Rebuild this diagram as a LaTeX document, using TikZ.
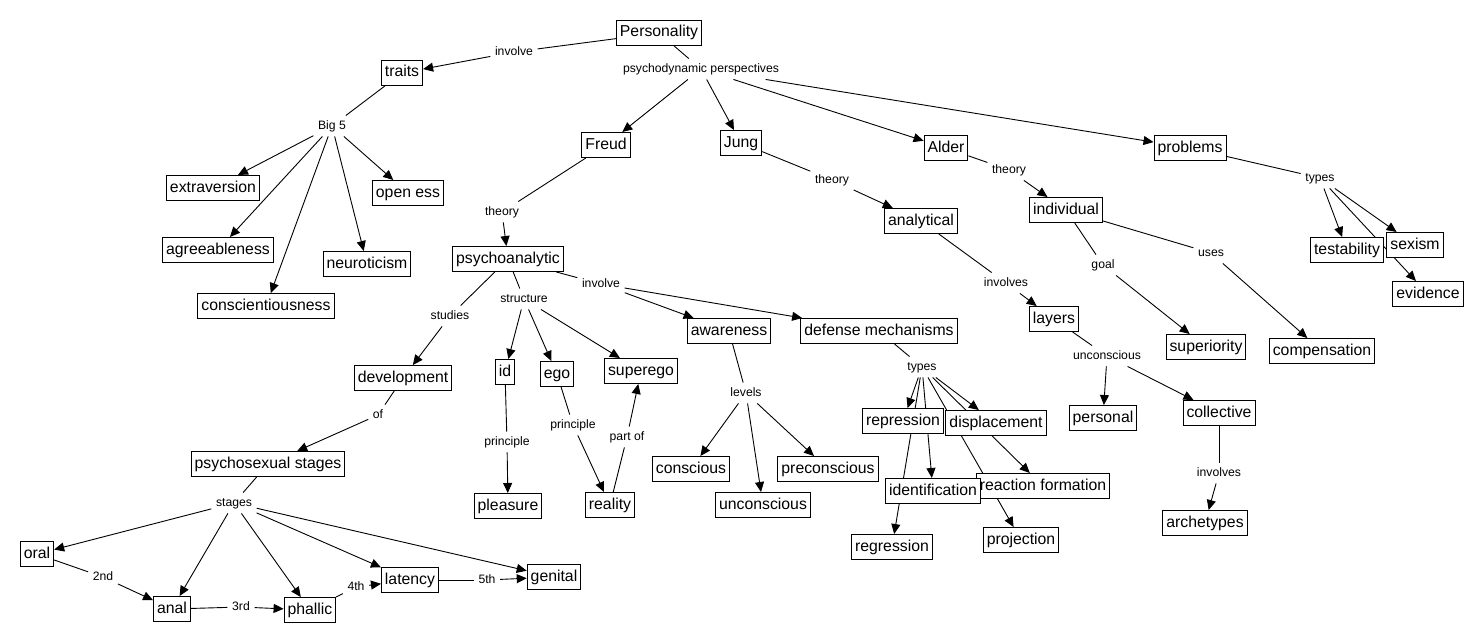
\documentclass[tikz,border=0pt]{standalone}
\usepackage{fontspec}
\setmainfont{Liberation Sans}
\usetikzlibrary{arrows.meta}
\pgfdeclarelayer{back}
\pgfdeclarelayer{bg}
\pgfsetlayers{back,bg,main}
\begin{document}
\begin{tikzpicture}[x=1pt,y=-1pt,
  concept/.style={draw=black,line width=1pt,fill=white,font=\fontsize{15.8}{18}\selectfont,
    text height=11.5pt,text depth=3.5pt,inner ysep=5pt,inner xsep=3.5pt},
  lnk/.style={font=\fontsize{12.2}{14}\selectfont,text height=9pt,text depth=2.5pt,inner sep=4.5pt},
  ln/.style={line width=0.9pt},
  arr/.style={line width=0.9pt,-{Triangle[length=10pt,width=9pt]}}]
\begin{pgfonlayer}{back}
\fill[white] (0,0) rectangle (1480,642);
\end{pgfonlayer}
\useasboundingbox (0,0) rectangle (1480,642);
% concepts
\node[concept] (P) at (659,33) {Personality};
\node[concept] (traits) at (402,73) {traits};
\node[concept] (extra) at (213,188) {extraversion};
\node[concept] (open) at (408,193) {open ess};
\node[concept] (agree) at (218,250) {agreeableness};
\node[concept] (neuro) at (367,264) {neuroticism};
\node[concept] (consc) at (266,306) {conscientiousness};
\node[concept] (freud) at (606,145) {Freud};
\node[concept] (jung) at (741,143) {Jung};
\node[concept] (alder) at (946,148) {Alder};
\node[concept] (problems) at (1190,148) {problems};
\node[concept] (analytical) at (921,221) {analytical};
\node[concept] (individual) at (1066,210) {individual};
\node[concept] (testability) at (1347,250) {testability};
\node[concept] (sexism) at (1415,245) {sexism};
\node[concept] (evidence) at (1428,294) {evidence};
\node[concept] (psa) at (508,259) {psychoanalytic};
\node[concept] (awareness) at (729,331) {awareness};
\node[concept] (defense) at (879,331) {defense mechanisms};
\node[concept] (superiority) at (1206,347) {superiority};
\node[concept] (compensation) at (1322,351) {compensation};
\node[concept] (layers) at (1054,319) {layers};
\node[concept] (personal) at (1103,418) {personal};
\node[concept] (collective) at (1219,413) {collective};
\node[concept] (archetypes) at (1205,523) {archetypes};
\node[concept] (id) at (505,372) {id};
\node[concept] (ego) at (557,374) {ego};
\node[concept] (superego) at (641,371) {superego};
\node[concept] (development) at (403,378) {development};
\node[concept] (pss) at (268,464) {psychosexual stages};
\node[concept] (oral) at (37,554) {oral};
\node[concept] (anal) at (172,609) {anal};
\node[concept] (phallic) at (310,610) {phallic};
\node[concept] (latency) at (410,580) {latency};
\node[concept] (genital) at (554,577) {genital};
\node[concept] (pleasure) at (508,506) {pleasure};
\node[concept] (reality) at (610,505) {reality};
\node[concept] (conscious) at (691,469) {conscious};
\node[concept] (unconsc) at (763,505) {unconscious};
\node[concept] (precon) at (828,469) {preconscious};
\node[concept] (repression) at (903,421) {repression};
\node[concept] (displacement) at (996,423) {displacement};
\node[concept] (reactionf) at (1043,486) {reaction formation};
\node[concept] (identification) at (933,491) {identification};
\node[concept] (regression) at (892,547) {regression};
\node[concept] (projection) at (1021,540) {projection};
% linking phrases
\node[lnk] (lInv1) at (514,52) {involve};
\node[lnk] (lPP) at (701,69) {psychodynamic perspectives};
\node[lnk] (lBig) at (332,126) {Big 5};
\node[lnk] (lTh1) at (502,212) {theory};
\node[lnk] (lTh2) at (832,180) {theory};
\node[lnk] (lTh3) at (1009,170) {theory};
\node[lnk] (lTy1) at (1320,178) {types};
\node[lnk] (lInv2) at (601,284) {involve};
\node[lnk] (lStr) at (524,299) {structure};
\node[lnk] (lStu) at (450,316) {studies};
\node[lnk] (lGoal) at (1103,265) {goal};
\node[lnk] (lUses) at (1211,253) {uses};
\node[lnk] (lInvs1) at (1006,283) {involves};
\node[lnk] (lUnc) at (1107,356) {unconscious};
\node[lnk] (lInvs2) at (1219,473) {involves};
\node[lnk] (lOf) at (378,415) {of};
\node[lnk] (lStg) at (234,503) {stages};
\node[lnk] (l2) at (103,577) {2nd};
\node[lnk] (l3) at (241,607) {3rd};
\node[lnk] (l4) at (356,587) {4th};
\node[lnk] (l5) at (487,580) {5th};
\node[lnk] (lPr1) at (507,442) {principle};
\node[lnk] (lPr2) at (573,425) {principle};
\node[lnk] (lPart) at (627,437) {part of};
\node[lnk] (lLev) at (746,393) {levels};
\node[lnk] (lTy2) at (922,367) {types};
% connectors
\begin{pgfonlayer}{bg}
\draw[ln] (P) -- (lInv1); \draw[arr] (lInv1) -- (traits);
\draw[ln] (P) -- (lPP);
\draw[arr] (lPP) -- (freud); \draw[arr] (lPP) -- (jung);
\draw[arr] (lPP) -- (alder); \draw[arr] (lPP) -- (problems);
\draw[ln] (traits) -- (lBig);
\foreach \t in {extra,open,agree,neuro,consc} \draw[arr] (lBig) -- (\t);
\draw[ln] (freud) -- (lTh1); \draw[arr] (lTh1) -- (psa);
\draw[ln] (jung) -- (lTh2); \draw[arr] (lTh2) -- (analytical);
\draw[ln] (alder) -- (lTh3); \draw[arr] (lTh3) -- (individual);
\draw[ln] (problems) -- (lTy1);
\foreach \t in {testability,sexism,evidence} \draw[arr] (lTy1) -- (\t);
\draw[ln] (individual) -- (lGoal); \draw[arr] (lGoal) -- (superiority);
\draw[ln] (individual) -- (lUses); \draw[arr] (lUses) -- (compensation);
\draw[ln] (analytical) -- (lInvs1); \draw[arr] (lInvs1) -- (layers);
\draw[ln] (layers) -- (lUnc);
\draw[arr] (lUnc) -- (personal); \draw[arr] (lUnc) -- (collective);
\draw[ln] (collective) -- (lInvs2); \draw[arr] (lInvs2) -- (archetypes);
\draw[ln] (psa) -- (lStu); \draw[arr] (lStu) -- (development);
\draw[ln] (psa) -- (lStr);
\foreach \t in {id,ego,superego} \draw[arr] (lStr) -- (\t);
\draw[ln] (psa) -- (lInv2);
\draw[arr] (lInv2) -- (awareness); \draw[arr] (lInv2) -- (defense);
\draw[ln] (development) -- (lOf); \draw[arr] (lOf) -- (pss);
\draw[ln] (pss) -- (lStg);
\foreach \t in {oral,anal,phallic,latency,genital} \draw[arr] (lStg) -- (\t);
\draw[ln] (oral) -- (l2); \draw[arr] (l2) -- (anal);
\draw[ln] (anal) -- (l3); \draw[arr] (l3) -- (phallic);
\draw[ln] (phallic) -- (l4); \draw[arr] (l4) -- (latency);
\draw[ln] (latency) -- (l5); \draw[arr] (l5) -- (genital);
\draw[ln] (id) -- (lPr1); \draw[arr] (lPr1) -- (pleasure);
\draw[ln] (ego) -- (lPr2); \draw[arr] (lPr2) -- (reality);
\draw[ln] (reality) -- (lPart); \draw[arr] (lPart) -- (superego);
\draw[ln] (awareness) -- (lLev);
\foreach \t in {conscious,unconsc,precon} \draw[arr] (lLev) -- (\t);
\draw[ln] (defense) -- (lTy2);
\foreach \t in {repression,regression,identification,projection,reactionf,displacement} \draw[arr] (lTy2) -- (\t);
\end{pgfonlayer}
\end{tikzpicture}
\end{document}
